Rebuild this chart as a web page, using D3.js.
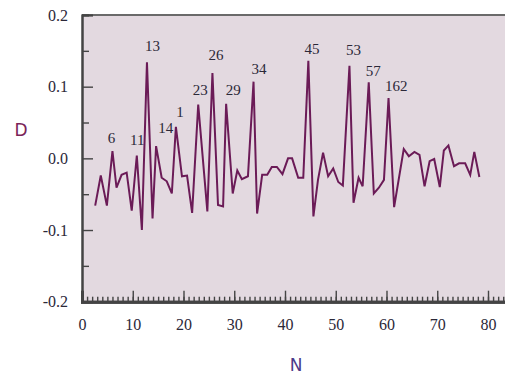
<!DOCTYPE html>
<html><head><meta charset="utf-8">
<script src="https://cdn.jsdelivr.net/npm/d3@7"></script>
<style>html,body{margin:0;padding:0;background:#fff;overflow:hidden}</style>
</head><body>
<svg id="c" width="505" height="374"></svg>
<script>
// Data
const nValues = [2.6,3.7,4.9,6.0,6.8,7.8,8.8,9.8,10.8,11.8,12.8,13.9,14.6,15.7,16.7,17.7,18.5,19.7,20.7,21.7,22.9,24.7,25.7,26.8,27.8,28.4,29.7,30.6,31.5,32.7,33.8,34.5,35.5,36.5,37.4,38.4,39.5,40.6,41.4,42.6,43.6,44.6,45.6,46.5,47.5,48.5,49.5,50.5,51.4,52.7,53.5,54.5,55.3,56.5,57.5,58.5,59.5,60.4,61.5,63.4,64.4,65.5,66.5,67.5,68.5,69.4,70.5,71.3,72.2,73.3,74.3,75.5,76.5,77.3,78.3];
const dValues = [-0.066,-0.024,-0.066,0.010,-0.041,-0.023,-0.020,-0.073,0.004,-0.100,0.134,-0.084,0.017,-0.027,-0.032,-0.049,0.044,-0.025,-0.024,-0.076,0.075,-0.074,0.119,-0.065,-0.067,0.076,-0.049,-0.017,-0.029,-0.025,0.107,-0.077,-0.023,-0.023,-0.012,-0.012,-0.022,0.000,0.000,-0.027,-0.027,0.136,-0.081,-0.030,0.008,-0.025,-0.014,-0.033,-0.038,0.129,-0.062,-0.027,-0.039,0.106,-0.049,-0.041,-0.030,0.084,-0.068,0.013,0.003,0.009,0.005,-0.039,-0.004,-0.001,-0.040,0.011,0.018,-0.011,-0.007,-0.007,-0.023,0.009,-0.026];
const peakLabels = ["6","11","13","14","1","23","26","29","34","45","53","57","162"];
const peakLabelN = [5.8,10.9,13.9,16.5,19.3,23.3,26.4,29.8,34.9,45.3,53.5,57.4,61.9];
const peakLabelD = [0.029,0.0255,0.157,0.043,0.065,0.096,0.144,0.096,0.125,0.152,0.151,0.122,0.101];
const xMajorTicks = [0,10,20,30,40,50,60,70,80];
const yMajorTicks = [-0.2,-0.1,0.0,0.1,0.2];
const xTitle = "N", yTitle = "D";

const svg = d3.select("#c");
const x = d3.scaleLinear().domain([0,85]).range([82, 82+85*5.075]);
const y = d3.scaleLinear().domain([-0.2,0.2]).range([301.7,15]);

svg.append("rect").attr("x",x(0)).attr("y",y(0.2)).attr("width",x(85)-x(0)).attr("height",y(-0.2)-y(0.2))
  .attr("fill","#e3d9e0");
svg.append("line").attr("x1",x(0)).attr("x2",x(85)).attr("y1",y(0.2)).attr("y2",y(0.2))
  .attr("stroke","#6a6a6a").attr("stroke-width",2);

const line = d3.line().x((d,i)=>x(nValues[i])).y(d=>y(d));
svg.append("path").datum(dValues).attr("d",line).attr("fill","none")
  .attr("stroke","#6b1b57").attr("stroke-width",2).attr("stroke-linejoin","miter");

const font = "'Liberation Serif','Times New Roman',serif";
const gxm = svg.append("g").attr("transform",`translate(0,${y(-0.2)})`)
  .call(d3.axisBottom(x).tickValues(d3.range(0,86,1)).tickSize(-5).tickFormat(""));
const gx = svg.append("g").attr("transform",`translate(0,${y(-0.2)})`)
  .call(d3.axisBottom(x).tickValues(xMajorTicks).tickSize(-11).tickPadding(17).tickFormat(d3.format("d")));
const gym = svg.append("g").attr("transform",`translate(${x(0)},0)`)
  .call(d3.axisLeft(y).tickValues([-0.15,-0.05,0.05,0.15]).tickSize(-7).tickFormat(""));
const gy = svg.append("g").attr("transform",`translate(${x(0)},0)`)
  .call(d3.axisLeft(y).tickValues(yMajorTicks).tickSize(-11).tickPadding(14).tickFormat(d3.format(".1f")));

[gxm,gx,gym,gy].forEach(g=>{
  g.select(".domain").attr("stroke","#444").attr("stroke-width",2);
  g.selectAll(".tick line").attr("stroke","#444").attr("stroke-width",1.4);
  g.selectAll("text").attr("font-family",font).attr("font-size",16).attr("fill","#2b2838");
});
gxm.select(".domain").attr("stroke-width",3);
gx.select(".domain").attr("stroke-width",3);
gy.selectAll("text").text(d=>d3.format(".1f")(d).replace("−","-"));

svg.append("g").selectAll("text").data(peakLabels).join("text")
  .attr("x",(d,i)=>x(peakLabelN[i])).attr("y",(d,i)=>y(peakLabelD[i]))
  .attr("text-anchor","middle").attr("dominant-baseline","central")
  .attr("font-family",font).attr("font-size",15).attr("fill","#2b2838").text(d=>d);

svg.append("text").attr("x",21).attr("y",130).attr("text-anchor","middle").attr("dominant-baseline","central")
  .attr("font-family","'DejaVu Sans',sans-serif").attr("font-size",17).attr("fill","#7a2458").text(yTitle);
svg.append("text").attr("x",296).attr("y",365).attr("text-anchor","middle").attr("dominant-baseline","central")
  .attr("font-family","'DejaVu Sans',sans-serif").attr("font-size",17).attr("fill","#4b3a8a").text(xTitle);
</script>
</body></html>
